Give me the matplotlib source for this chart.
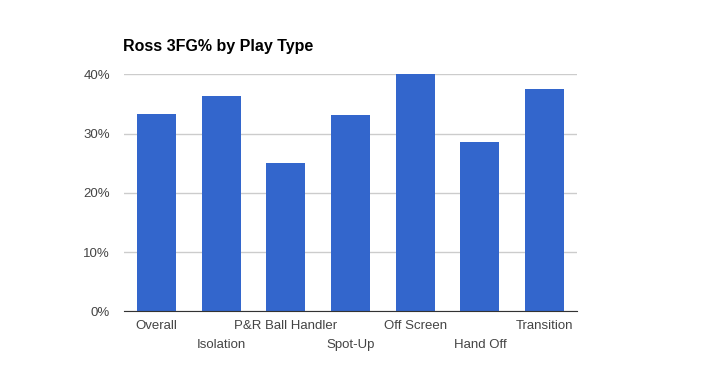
import matplotlib.pyplot as plt
from matplotlib.ticker import FuncFormatter

plt.rcParams['font.family'] = ['Liberation Sans', 'DejaVu Sans']

play_types = ['Overall', 'Isolation', 'P&R Ball Handler', 'Spot-Up',
              'Off Screen', 'Hand Off', 'Transition']
fg3_pct = [0.333, 0.364, 0.250, 0.332, 0.400, 0.285, 0.375]
y_ticks = [0, 0.1, 0.2, 0.3, 0.4]

fig = plt.figure(figsize=(7.01, 3.85), dpi=100)
ax = fig.add_axes([0.177, 0.191, 0.646, 0.616])

x = range(len(play_types))
ax.bar(x, fg3_pct, width=0.6, color='#3366cc', zorder=3)

ax.set_xlim(-0.5, len(play_types) - 0.5)
ax.set_ylim(0, 0.4)
ax.set_yticks(y_ticks)
ax.yaxis.set_major_formatter(FuncFormatter(lambda v, p: '%d%%' % round(v * 100)))
ax.grid(axis='y', color='#cccccc', linewidth=1, zorder=0)
ax.set_axisbelow(True)

for s in ['top', 'right', 'left']:
    ax.spines[s].set_visible(False)
ax.spines['bottom'].set_color('#333333')
ax.spines['bottom'].set_zorder(4)

ax.set_xticks(list(x))
ax.set_xticklabels(play_types)
ax.tick_params(axis='both', length=0, labelsize=9.5, labelcolor='#444444')
ax.tick_params(axis='y', pad=10)
# staggered labels like the original
for i, t in enumerate(ax.xaxis.get_major_ticks()):
    t.set_pad(6.5 if i % 2 == 0 else 19.5)

fig.text(123 / 701, 1 - 46 / 385, 'Ross 3FG% by Play Type', fontsize=11.5,
         fontweight='bold', ha='left', va='center', color='black')

plt.savefig('out.png', dpi=100)
